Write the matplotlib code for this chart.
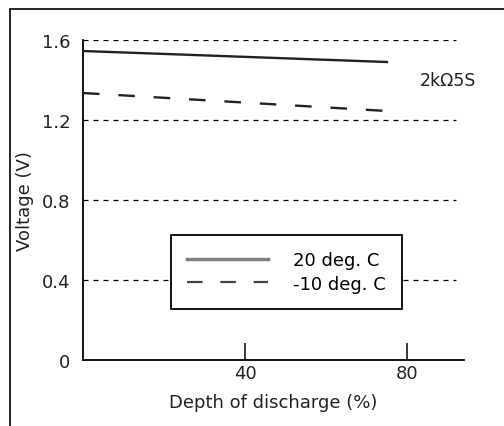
import matplotlib
matplotlib.use("Agg")
import matplotlib.pyplot as plt
from matplotlib.lines import Line2D
from matplotlib.patches import Rectangle

# Data
depth = [0, 75]
v_20 = [1.545, 1.49]
v_m10 = [1.335, 1.245]
series_labels = ["20 deg. C", "-10 deg. C"]
yticks = [0, 0.4, 0.8, 1.2, 1.6]
ytick_labels = ["0", "0.4", "0.8", "1.2", "1.6"]
xticks = [40, 80]
xtick_labels = ["40", "80"]
grid_levels = [0.4, 0.8, 1.2, 1.6]

plt.rcParams['font.family'] = ['DejaVu Sans']
FS = 13

fig = plt.figure(figsize=(5.04, 4.27), dpi=100)
ax = fig.add_axes([83/504, 66/427, 381/504, 320/427])

# outer frame
fig.patches.append(Rectangle((10/504, -0.2), 1.2, 1.2 - 9.5/427,
                             transform=fig.transFigure, fill=False,
                             edgecolor='black', linewidth=1.2))

ax.set_xlim(0, 94)
ax.set_ylim(0, 1.6)

for g in grid_levels:
    ax.plot([0, 92], [g, g], color='black', linewidth=0.9,
            dashes=(4, 4), zorder=1)

ax.plot(depth, v_20, color='#222222', linewidth=1.7, zorder=3)
ax.plot(depth, v_m10, color='#222222', linewidth=1.7, dashes=(7, 8), zorder=3)

ax.text(83, 1.40, "2k\u03a95S", fontsize=12.5, ha='left', va='center',
        color='#222222')

for s in ['top', 'right']:
    ax.spines[s].set_visible(False)
for s in ['left', 'bottom']:
    ax.spines[s].set_linewidth(1.3)

ax.set_yticks(yticks)
ax.set_yticklabels(ytick_labels, fontsize=FS, color='#222222')
ax.set_xticks(xticks)
ax.set_xticklabels(xtick_labels, fontsize=FS, color='#222222')
ax.tick_params(axis='y', length=0, pad=9)
ax.tick_params(axis='x', direction='in', length=12, width=1.1, pad=3)

ax.set_xlabel("Depth of discharge (%)", fontsize=FS, color='#222222', labelpad=8)
ax.set_ylabel("Voltage (V)", fontsize=FS, color='#222222', labelpad=6)

handles = [Line2D([], [], color='#808080', linewidth=2.5),
           Line2D([], [], color='#444444', linewidth=1.6, dashes=(7, 8))]
leg = ax.legend(handles, series_labels, loc='center',
                bbox_to_anchor=(0.534, 0.275), fontsize=FS,
                fancybox=False, framealpha=1, edgecolor='black',
                handlelength=4.5, handletextpad=1.4, labelspacing=0.3,
                borderpad=0.9, borderaxespad=0)
leg.get_frame().set_linewidth(1.3)

fig.savefig("out.png", dpi=100)
